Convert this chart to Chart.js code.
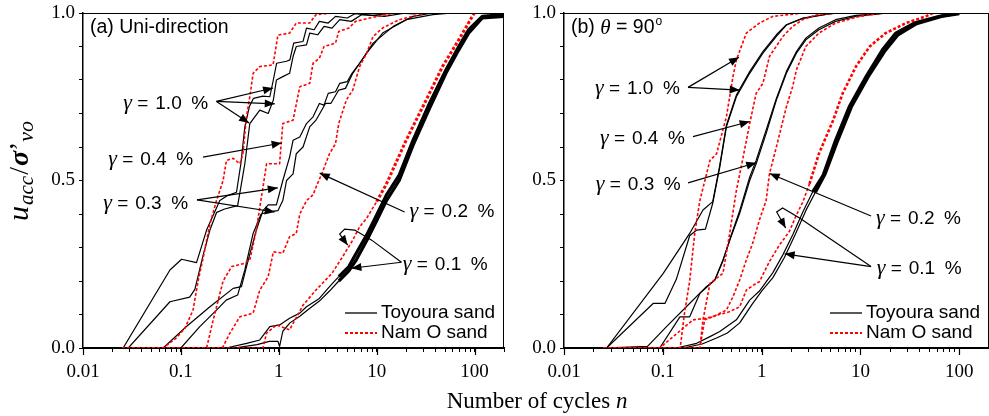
<!DOCTYPE html>
<html><head><meta charset="utf-8">
<script src="https://cdn.jsdelivr.net/npm/chart.js@4.4.1/dist/chart.umd.min.js"></script>
<style>
html,body{margin:0;padding:0;background:#fff;}
#wrap{position:relative;width:989px;height:416px;overflow:hidden;background:#fff;}
canvas{position:absolute;top:0;}
#ca{left:0;}
#cb{left:481px;}
#xtitle{position:absolute;left:537px;top:389px;transform:translateX(-50%);white-space:nowrap;font:23px/23px "Liberation Serif",serif;color:#000;}
#xtitle i{font-style:italic;}
</style></head>
<body>
<div id="wrap">
<canvas id="ca" width="505" height="416" style="width:505px;height:416px"></canvas>
<canvas id="cb" width="508" height="416" style="width:508px;height:416px"></canvas>
<div id="xtitle">Number of cycles <i>n</i></div>
</div>
<script>
// ---------- axis ticks / labels ----------
const xMajor = [0.01, 0.1, 1, 10, 100];
const xTickLabels = ['0.01', '0.1', '1', '10', '100'];
const yMajor = [0, 0.5, 1.0];
const yTickLabels = ['0.0', '0.5', '1.0'];
const legendLabels = ['Toyoura sand', 'Nam O sand'];
const panelTitles = ['(a) Uni-direction', '(b)'];

// ---------- data: [cycles n, u_acc/sigma'_vo] ----------
// Panel (a) Uni-direction
const aT10a = [[0.025,0],[0.0257,0],[0.0773,0.233],[0.1016,0.265],[0.1445,0.255],[0.183,0.352],[0.25,0.44],[0.30,0.455],[0.37,0.465],[0.41,0.55],[0.45,0.66],[0.50,0.72],[0.55,0.745],[0.69,0.752],[0.81,0.75],[0.88,0.80],[0.95,0.85],[1.2,0.856],[1.3,0.86],[1.42,0.91],[1.77,0.915],[1.92,0.955],[2.3,0.95],[2.6,0.975],[3.2,0.97],[3.8,0.99],[5,0.985],[6,0.998],[9,0.993],[15,1.0],[25,0.997]];
const aT10b = [[0.025,0],[0.029,0],[0.0773,0.138],[0.123,0.152],[0.139,0.175],[0.169,0.278],[0.198,0.352],[0.232,0.405],[0.28,0.415],[0.38,0.425],[0.41,0.48],[0.45,0.55],[0.506,0.67],[0.64,0.71],[0.78,0.70],[0.88,0.74],[0.946,0.80],[1.1,0.81],[1.29,0.82],[1.4,0.87],[1.51,0.90],[1.92,0.905],[2.07,0.94],[2.5,0.935],[2.9,0.96],[3.5,0.955],[4.2,0.98],[5.5,0.975],[7,0.995],[12,0.99],[20,1.0]];
const aN10 = [[0.025,0],[0.066,0],[0.09,0.03],[0.11,0.059],[0.133,0.113],[0.15,0.2],[0.169,0.27],[0.198,0.37],[0.231,0.44],[0.27,0.50],[0.292,0.56],[0.342,0.566],[0.40,0.55],[0.43,0.58],[0.468,0.69],[0.506,0.75],[0.547,0.82],[0.64,0.84],[0.875,0.845],[0.98,0.934],[1.29,0.94],[1.51,0.97],[2.07,0.97],[2.4,0.995],[3.5,1.0],[6,1.0]];
const aN04 = [[0.025,0],[0.183,0],[0.214,0.084],[0.27,0.20],[0.33,0.243],[0.45,0.253],[0.506,0.263],[0.59,0.352],[0.64,0.42],[0.69,0.48],[0.75,0.55],[1.02,0.55],[1.1,0.67],[1.4,0.68],[1.64,0.78],[2.07,0.79],[2.24,0.85],[2.6,0.865],[2.9,0.90],[3.8,0.91],[4.1,0.945],[5.2,0.955],[6.1,0.975],[8.5,0.985],[15,1.0],[25,1.0]];
const aT03a = [[0.066,0],[0.114,0.064],[0.198,0.123],[0.342,0.178],[0.416,0.183],[0.468,0.243],[0.59,0.352],[0.69,0.41],[0.78,0.427],[0.946,0.427],[1.1,0.50],[1.29,0.57],[1.4,0.62],[1.64,0.63],[1.92,0.67],[2.24,0.69],[2.6,0.73],[2.9,0.725],[3.2,0.76],[3.8,0.765],[4.2,0.79],[5,0.795],[5.6,0.82],[6.7,0.85],[9.2,0.91],[14.8,0.96],[23.5,0.99],[37.5,1.0],[60,1.0]];
const aT03b = [[0.10,0],[0.156,0.064],[0.231,0.113],[0.29,0.143],[0.38,0.158],[0.45,0.233],[0.547,0.342],[0.66,0.40],[0.81,0.407],[0.98,0.41],[1.1,0.44],[1.2,0.50],[1.4,0.52],[1.51,0.58],[1.77,0.60],[2.07,0.66],[2.4,0.68],[3.0,0.73],[3.4,0.73],[4.1,0.77],[4.8,0.775],[5.7,0.82],[7.9,0.88],[11.5,0.94],[20,0.98],[37.5,0.995],[60,1.0]];
const aN02 = [[0.025,0],[0.26,0],[0.27,0.004],[0.316,0.044],[0.40,0.093],[0.547,0.104],[0.64,0.173],[0.78,0.213],[0.88,0.287],[1.1,0.283],[1.29,0.332],[1.51,0.342],[1.64,0.40],[1.92,0.44],[2.24,0.457],[2.4,0.48],[2.75,0.52],[3.3,0.58],[3.8,0.61],[4.1,0.67],[4.9,0.74],[5.7,0.77],[6.7,0.84],[7.9,0.88],[9.2,0.93],[11.5,0.955],[17,0.98],[32,1.0]];
const aT01a = [[0.29,0],[0.47,0.014],[0.64,0.024],[0.81,0.064],[1.02,0.069],[1.29,0.089],[1.64,0.104],[1.92,0.123],[2.6,0.148],[3.3,0.183],[4.1,0.213],[5.2,0.243],[6.1,0.28],[7.9,0.337],[10,0.397],[12.6,0.457],[17,0.516],[23.5,0.62],[34.6,0.73],[51,0.83],[69,0.90],[87,0.95],[120,0.99],[200,0.995]];
const aT01b = [[0.35,0],[0.6,0.01],[0.8,0.02],[0.98,0.02],[1.02,0.005],[1.1,0.05],[1.3,0.075],[1.64,0.095],[2.0,0.115],[2.6,0.14],[3.3,0.17],[4.1,0.2],[5.2,0.23],[6.1,0.26],[7.9,0.32],[10,0.38],[12.6,0.44],[17,0.50],[23.5,0.605],[34.6,0.715],[51,0.82],[69,0.89],[87,0.94],[120,0.985],[200,0.99]];
const aN01 = [[0.025,0],[0.69,0],[0.75,0.044],[0.946,0.069],[1.29,0.054],[1.77,0.128],[2.4,0.173],[3.5,0.223],[4.5,0.273],[5.7,0.322],[6.7,0.362],[7.9,0.387],[10,0.437],[12.6,0.49],[20,0.62],[32,0.74],[47,0.84],[69,0.92],[95,0.99],[100,1.0]];

// Panel (b) theta = 90 deg
const bT10a = [[0.025,0],[0.027,0],[0.0798,0.133],[0.105,0.133],[0.137,0.205],[0.187,0.335],[0.22,0.352],[0.27,0.355],[0.32,0.432],[0.377,0.54],[0.44,0.66],[0.555,0.75],[0.757,0.82],[1.03,0.88],[1.41,0.93],[1.78,0.964],[2.62,0.984],[4.2,0.994],[5.6,1.0],[15,1.0]];
const bT10b = [[0.025,0],[0.027,0],[0.101,0.223],[0.187,0.342],[0.255,0.412],[0.32,0.437],[0.377,0.545],[0.44,0.665],[0.555,0.755],[0.757,0.825],[1.03,0.885],[1.41,0.935],[1.78,0.965],[2.62,0.985],[4.2,0.995],[5.6,1.0],[15,1.0]];
const bN10 = [[0.025,0],[0.15,0],[0.165,0.1],[0.187,0.2],[0.21,0.34],[0.237,0.44],[0.30,0.56],[0.35,0.58],[0.44,0.69],[0.513,0.81],[0.555,0.86],[0.70,0.94],[0.95,0.97],[1.3,0.99],[2.62,1.0],[5,1.0]];
const bN04 = [[0.025,0],[0.237,0],[0.255,0.084],[0.30,0.193],[0.406,0.223],[0.475,0.342],[0.555,0.47],[0.65,0.57],[0.757,0.67],[0.88,0.76],[1.03,0.79],[1.2,0.87],[1.64,0.93],[2.06,0.96],[2.6,0.98],[3.5,0.994],[6,1.0]];
const bT03a = [[0.025,0],[0.07,0.005],[0.109,0.064],[0.173,0.123],[0.276,0.183],[0.336,0.203],[0.406,0.263],[0.49,0.332],[0.6,0.402],[0.757,0.50],[0.88,0.55],[1.11,0.64],[1.41,0.74],[1.78,0.82],[2.25,0.88],[2.8,0.92],[3.8,0.95],[5.6,0.975],[9,0.99],[19,1.0],[30,1.0]];
const bT03b = [[0.025,0],[0.093,0],[0.149,0.093],[0.187,0.093],[0.237,0.163],[0.336,0.203],[0.406,0.26],[0.49,0.335],[0.6,0.41],[0.757,0.51],[0.88,0.56],[1.11,0.65],[1.41,0.745],[1.78,0.825],[2.25,0.885],[2.8,0.925],[3.8,0.955],[5.6,0.98],[9,0.993],[19,1.0],[30,1.0]];
const bN02 = [[0.025,0],[0.237,0],[0.265,0.084],[0.32,0.093],[0.44,0.113],[0.513,0.153],[0.6,0.203],[0.70,0.263],[0.81,0.312],[0.95,0.382],[1.11,0.44],[1.2,0.52],[1.41,0.60],[1.78,0.72],[2.06,0.78],[2.25,0.83],[2.8,0.90],[3.8,0.94],[5.6,0.97],[9.8,0.99],[16.5,1.0],[25,1.0]];
const bT01a = [[0.025,0],[0.137,0],[0.22,0.014],[0.30,0.034],[0.377,0.049],[0.555,0.084],[0.757,0.143],[0.95,0.17],[1.3,0.225],[1.64,0.278],[2.06,0.337],[2.62,0.407],[3.3,0.467],[4.2,0.516],[5.6,0.62],[7.7,0.72],[11.4,0.81],[16.7,0.89],[22.8,0.94],[35,0.97],[63,0.99],[100,1.0]];
const bT01b = [[0.025,0],[0.16,0],[0.25,0.012],[0.35,0.03],[0.45,0.045],[0.6,0.075],[0.8,0.13],[1.0,0.17],[1.3,0.21],[1.7,0.27],[2.2,0.34],[2.8,0.41],[3.5,0.465],[4.4,0.52],[5.9,0.62],[8.1,0.72],[12,0.81],[17.5,0.885],[24,0.935],[37,0.968],[66,0.99],[100,0.998]];
const bN01 = [[0.025,0],[0.093,0],[0.202,0.084],[0.276,0.089],[0.47,0.108],[0.6,0.123],[0.70,0.173],[0.88,0.193],[0.95,0.198],[1.2,0.258],[1.51,0.307],[1.9,0.347],[2.25,0.397],[2.62,0.437],[3.05,0.49],[3.8,0.58],[5.3,0.68],[6.6,0.76],[9,0.84],[12.4,0.90],[18,0.94],[29,0.97],[46,0.99],[54,1.0]];

// ---------- annotations (data coordinates) ----------
const annA = [
  {val:'1.0', label:[0.0258,0.735], from:[0.231,0.736], tips:[[0.875,0.776],[0.91,0.729],[0.498,0.672]]},
  {val:'0.4', label:[0.0181,0.566], from:[0.168,0.570], tips:[[1.07,0.612]]},
  {val:'0.3', label:[0.0161,0.437], from:[0.146,0.442], tips:[[0.977,0.478],[0.91,0.406]]},
  {val:'0.2', label:[21.7,0.412], from:[19.3,0.406], tips:[[2.62,0.522]]},
  {val:'0.1', label:[18.5,0.253], from:[17.9,0.256], tips:[[5.52,0.238]], curl:{path:[[8.9,0.322],[5.97,0.352],[4.71,0.355],[4.19,0.340]], tip:[5.06,0.307]}}
];
const annB = [
  {val:'1.0', label:[0.0206,0.780], from:[0.180,0.778], tips:[[0.59,0.868],[0.6,0.770]]},
  {val:'0.4', label:[0.0231,0.631], from:[0.202,0.631], tips:[[0.757,0.676]]},
  {val:'0.3', label:[0.021,0.492], from:[0.180,0.493], tips:[[0.883,0.553]]},
  {val:'0.2', label:[14.4,0.392], from:[12.8,0.394], tips:[[1.205,0.521]]},
  {val:'0.1', label:[14.6,0.243], from:[12.8,0.243], tips:[[1.71,0.281]], curl:{path:[[2.42,0.388],[1.63,0.418],[1.42,0.406]], tip:[1.75,0.358]}}
];

// ---------- helpers ----------
const SERIF = '"Liberation Serif", serif';
const SANS = '"Liberation Sans", Arial, sans-serif';
const RED = '#ff0000';
const xTickVals = [];
xMajor.forEach(d => { for (let k = 1; k <= 9; k++) { const v = +(k*d).toPrecision(6); if (v <= 200) xTickVals.push(v); } });
const yTickVals = [0,0.1,0.2,0.3,0.4,0.5,0.6,0.7,0.8,0.9,1.0];

function series(arr, color, dashed, thickFrom, thickW) {
  const base = dashed ? 1.6 : 1.2;
  const ds = {
    data: arr.map(p => ({x:p[0], y:p[1]})),
    borderColor: color, borderWidth: base, borderDash: dashed ? [3,2] : [],
    pointRadius: 0, fill: false, tension: 0, borderJoinStyle:'round'
  };
  if (thickFrom) ds.segment = { borderWidth: c => (c.p0.parsed.x >= thickFrom ? thickW : base) };
  return ds;
}

function arrowHead(ctx, x0, y0, x1, y1) {
  const a = Math.atan2(y1 - y0, x1 - x0), L = 10, W = 4;
  ctx.beginPath();
  ctx.moveTo(x1, y1);
  ctx.lineTo(x1 - L*Math.cos(a) + W*Math.sin(a), y1 - L*Math.sin(a) - W*Math.cos(a));
  ctx.lineTo(x1 - L*Math.cos(a) - W*Math.sin(a), y1 - L*Math.sin(a) + W*Math.cos(a));
  ctx.closePath(); ctx.fill();
}

function gammaLabel(ctx, x, y, val) {
  const base = y + 7;
  ctx.fillStyle = '#000';
  ctx.textBaseline = 'alphabetic'; ctx.textAlign = 'left';
  ctx.font = 'italic 22px ' + SERIF; ctx.fillText('\u03B3', x, base);
  ctx.font = '19px ' + SANS;
  ctx.fillText('=', x + 14, base);
  ctx.fillText(val, x + 32, base);
  ctx.fillText('%', x + 68, base);
}

function annotPlugin(ann) {
  return { id:'annot', afterDatasetsDraw(chart) {
    const ctx = chart.ctx, sx = chart.scales.x, sy = chart.scales.y;
    const P = p => [sx.getPixelForValue(p[0]), sy.getPixelForValue(p[1])];
    ctx.save();
    ctx.strokeStyle = '#000'; ctx.fillStyle = '#000'; ctx.lineWidth = 1.2;
    ann.forEach(a => {
      const [lx, ly] = P(a.label);
      gammaLabel(ctx, lx, ly, a.val);
      const [fx, fy] = P(a.from);
      a.tips.forEach(t => {
        const [tx, ty] = P(t);
        ctx.beginPath(); ctx.moveTo(fx, fy); ctx.lineTo(tx, ty); ctx.stroke();
        arrowHead(ctx, fx, fy, tx, ty);
      });
      if (a.curl) {
        const pts = [a.from].concat(a.curl.path).map(P);
        const [tx, ty] = P(a.curl.tip);
        ctx.beginPath(); ctx.moveTo(pts[0][0], pts[0][1]);
        for (let i = 1; i < pts.length; i++) ctx.lineTo(pts[i][0], pts[i][1]);
        ctx.lineTo(tx, ty); ctx.stroke();
        const last = pts[pts.length-1];
        arrowHead(ctx, last[0], last[1], tx, ty);
      }
    });
    ctx.restore();
  }};
}

function framePlugin(title) {
  return { id:'frame', afterDraw(chart) {
    const ctx = chart.ctx, ca = chart.chartArea, sx = chart.scales.x;
    ctx.save();
    ctx.strokeStyle = '#000'; ctx.lineWidth = 1;
    ctx.beginPath();
    ctx.moveTo(ca.left, ca.top + 0.5); ctx.lineTo(ca.right, ca.top + 0.5);
    ctx.moveTo(ca.right - 0.5, ca.top); ctx.lineTo(ca.right - 0.5, ca.bottom);
    ctx.stroke();
    // longer major ticks
    ctx.lineWidth = 1.2;
    xMajor.forEach(v => { const px = Math.round(sx.getPixelForValue(v)) + 0.5; ctx.beginPath(); ctx.moveTo(px, ca.bottom); ctx.lineTo(px, ca.bottom + 7); ctx.stroke(); });
    // legend
    const lx = ca.right - 159, y1 = ca.bottom - 35, y2 = ca.bottom - 15;
    ctx.lineWidth = 1.3; ctx.setLineDash([]);
    ctx.beginPath(); ctx.moveTo(lx, y1); ctx.lineTo(lx + 32, y1); ctx.stroke();
    ctx.strokeStyle = RED; ctx.lineWidth = 2.2; ctx.setLineDash([3,2]);
    ctx.beginPath(); ctx.moveTo(lx, y2); ctx.lineTo(lx + 32, y2); ctx.stroke();
    ctx.setLineDash([]);
    ctx.fillStyle = '#000'; ctx.font = '19px ' + SANS; ctx.textBaseline = 'middle'; ctx.textAlign = 'left';
    ctx.fillText(legendLabels[0], lx + 36, y1);
    ctx.fillText(legendLabels[1], lx + 36, y2);
    // panel title
    const tx = ca.left + 7, ty = ca.top + 15;
    ctx.font = '19.5px ' + SANS;
    if (title === 0) {
      ctx.fillText(panelTitles[0], tx, ty);
    } else {
      ctx.fillText(panelTitles[1], tx, ty);
      let x = tx + ctx.measureText(panelTitles[1] + ' ').width;
      ctx.font = 'italic 21px ' + SERIF; ctx.fillText('\u03B8', x, ty);
      x += ctx.measureText('\u03B8').width;
      ctx.font = '19.5px ' + SANS; ctx.fillText(' = 90', x, ty);
      x += ctx.measureText(' = 90').width + 1;
      ctx.font = '12px ' + SANS; ctx.fillText('o', x, ty - 6);
    }
    ctx.restore();
  }};
}

const yTitlePlugin = { id:'ytitle', afterDraw(chart) {
  const ctx = chart.ctx;
  ctx.save();
  ctx.translate(28, 221); ctx.rotate(-Math.PI/2);
  ctx.fillStyle = '#000'; ctx.textBaseline = 'alphabetic'; ctx.textAlign = 'left';
  let x = 0;
  const put = (t, f, dy, gap) => { ctx.font = f; ctx.fillText(t, x, dy); x += ctx.measureText(t).width + (gap || 0); };
  put('u', 'italic 30px ' + SERIF, 0, 1);
  put('acc', 'italic 21px ' + SERIF, 5, 1);
  put('/', '28px ' + SERIF, 0, 1);
  put('\u03C3', 'italic bold 28px ' + SERIF, 0);
  put('\u2019', '28px ' + SERIF, 0);
  put('vo', 'italic 22px ' + SERIF, 5);
  ctx.restore();
}};

function makeChart(id, datasets, ann, titleIdx, padRight, extra) {
  const plugins = [annotPlugin(ann), framePlugin(titleIdx)].concat(extra);
  return new Chart(document.getElementById(id), {
    type: 'line',
    data: { datasets },
    options: {
      responsive: false, animation: false, devicePixelRatio: 1,
      layout: { padding: { left: 0, right: padRight, top: 13, bottom: 0 } },
      plugins: { legend: { display: false }, tooltip: { enabled: false } },
      scales: {
        x: {
          type: 'logarithmic', min: 0.01, max: 200,
          afterBuildTicks: s => { s.ticks = xTickVals.map(v => ({ value: v })); },
          afterFit: s => { s.height = 68; s.paddingLeft = 0; s.paddingRight = 0; },
          ticks: { autoSkip: false, maxRotation: 0, minRotation: 0, padding: 9, color: '#000',
            font: { family: SERIF, size: 19 },
            callback: v => { const i = xMajor.findIndex(m => Math.abs(m - v) / m < 1e-6); return i >= 0 ? xTickLabels[i] : ''; } },
          grid: { drawOnChartArea: false, drawTicks: true, tickLength: 4, tickColor: '#000', tickWidth: 1 },
          border: { display: true, color: '#000', width: 2 }
        },
        y: {
          min: 0, max: 1,
          afterBuildTicks: s => { s.ticks = yTickVals.map(v => ({ value: v })); },
          afterFit: s => { s.width = 83; s.paddingTop = 0; s.paddingBottom = 0; },
          ticks: { autoSkip: false, padding: 4, color: '#000', font: { family: SERIF, size: 19 },
            callback: v => { const i = yMajor.findIndex(m => Math.abs(m - v) < 1e-6); return i >= 0 ? yTickLabels[i] : ''; } },
          grid: { drawOnChartArea: false, drawTicks: true, tickLength: 4, tickColor: '#000', tickWidth: 1 },
          border: { display: true, color: '#000', width: 1.5 }
        }
      }
    },
    plugins
  });
}

const dsA = [
  series(aN10, RED, true), series(aN04, RED, true), series(aN02, RED, true), series(aN01, RED, true, 8, 3),
  series(aT10a, '#000'), series(aT10b, '#000'), series(aT03a, '#000'), series(aT03b, '#000'),
  series(aT01a, '#000', false, 4, 3.2), series(aT01b, '#000', false, 4, 3.2)
];
const dsB = [
  series(bN10, RED, true), series(bN04, RED, true), series(bN02, RED, true), series(bN01, RED, true, 3, 2.6),
  series(bT10a, '#000'), series(bT10b, '#000'), series(bT03a, '#000'), series(bT03b, '#000'),
  series(bT01a, '#000', false, 3, 3.2), series(bT01b, '#000', false, 3, 3.2)
];

makeChart('ca', dsA, annA, 0, 1, [yTitlePlugin]);
makeChart('cb', dsB, annB, 1, 0, []);
</script>
</body></html>
